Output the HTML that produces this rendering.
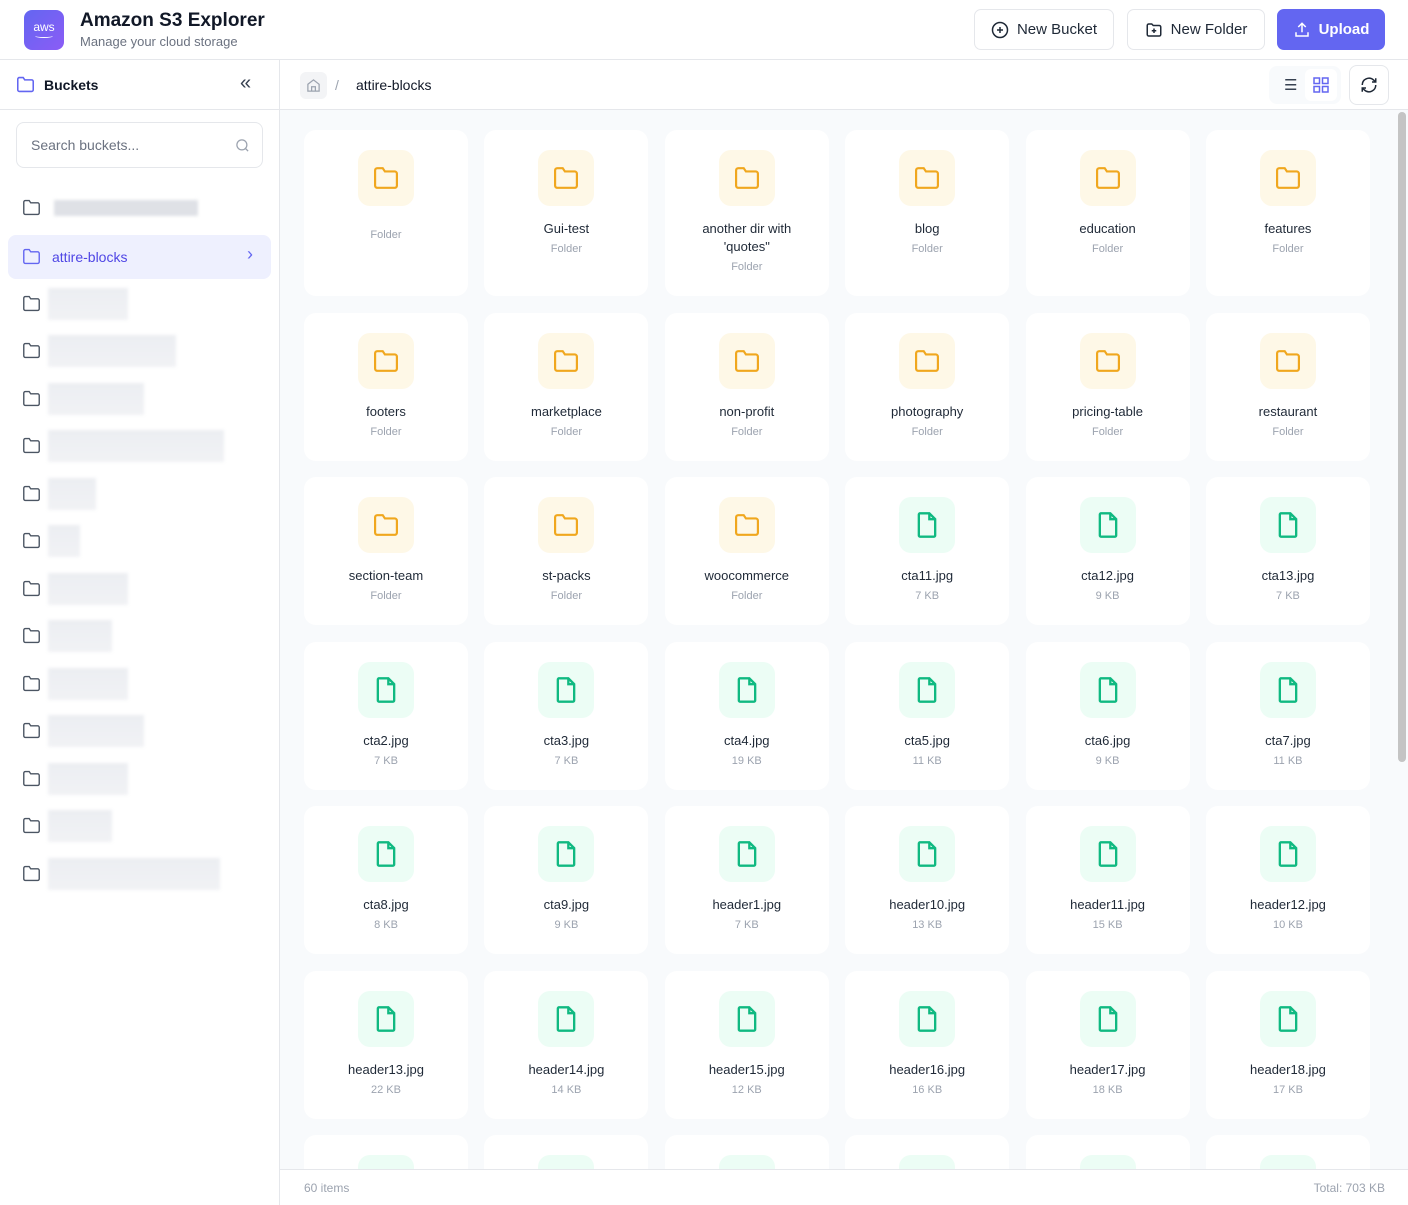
<!DOCTYPE html>
<html><head><meta charset="utf-8"><style>
*{box-sizing:border-box;margin:0;padding:0}
html,body{width:1408px;height:1205px;overflow:hidden}
body{background:#fff;font-family:"Liberation Sans",sans-serif;color:#1f2937;position:relative}
.hdr{position:absolute;left:0;top:0;width:1408px;height:60px;border-bottom:1px solid #e5e7eb;background:#fff}
.logo{position:absolute;left:24px;top:10px;width:40px;height:40px;border-radius:8px;background:linear-gradient(135deg,#6366f1,#8b5cf6);color:#fff;font-size:12px;text-align:center;line-height:34px}
.title{position:absolute;left:80px;top:10px;font-size:19px;font-weight:bold;color:#111827}
.sub{position:absolute;left:80px;top:34px;font-size:13px;color:#6b7280}
.btn{position:absolute;top:9px;height:41px;border:1px solid #e5e7eb;border-radius:7px;font-size:15px;color:#1f2937;display:flex;align-items:center;justify-content:center;gap:8px;background:#fff}
.side{position:absolute;left:0;top:60px;width:280px;height:1145px;border-right:1px solid #e5e7eb;background:#fff;overflow:hidden}
.sidehead{height:50px;border-bottom:1px solid #e5e7eb;position:relative}
.search{position:absolute;left:16px;top:62px;width:247px;height:46px;border:1px solid #e5e7eb;border-radius:8px;font-size:14px;color:#6b7280;padding:14px 14px}
.item{position:absolute;left:8px;width:263px;height:44px;border-radius:8px}
.item svg{position:absolute;left:14px;top:13px}
.blur{position:absolute;left:40px;top:6px;height:32px;background:linear-gradient(#eceef2,#f1f2f5);filter:blur(1.5px)}
.main{position:absolute;left:280px;top:60px;width:1128px;height:1145px;overflow:hidden}
.tool{height:50px;border-bottom:1px solid #e5e7eb;position:relative;background:#fff}
.content{position:absolute;left:0;top:50px;width:1128px;height:1059px;background:#f8fafc;overflow:hidden}
.grid{position:absolute;left:24px;top:20px;display:grid;grid-template-columns:repeat(6,164px);column-gap:16.4px;row-gap:16.5px;grid-template-rows:166px repeat(6,148px)}
.card{background:#fff;border-radius:12px;display:flex;flex-direction:column;align-items:center;padding-top:20px;text-align:center}
.ic{width:56px;height:56px;border-radius:12px;display:flex;align-items:center;justify-content:center}
.f .ic{background:#fef8e7}.d .ic{background:#ecfdf5}
.nm{margin-top:14px;font-size:13px;line-height:18px;color:#1f2937;width:120px}
.sz{margin-top:4px;font-size:11px;line-height:15px;color:#9ca3af}
.foot{position:absolute;left:0;top:1109px;width:1128px;height:36px;border-top:1px solid #e5e7eb;background:#fff;font-size:12px;color:#9ca3af}
.scroll{position:absolute;right:2px;top:2px;width:8px;height:650px;border-radius:4px;background:#c4c4c4}
</style></head><body>
<div class="hdr">
 <div class="logo">aws<div style="position:absolute;left:11px;top:24px;width:18px;height:4px;border-bottom:1.5px solid #fff;border-radius:0 0 50% 50%"></div></div>
 <div class="title">Amazon S3 Explorer</div>
 <div class="sub">Manage your cloud storage</div>
 <div class="btn" style="left:974px;width:140px"><svg width="18" height="18" viewBox="0 0 24 24" fill="none" stroke="#1f2937" stroke-width="2"><circle cx="12" cy="12" r="10"/><path d="M12 8v8M8 12h8"/></svg>New Bucket</div>
 <div class="btn" style="left:1127px;width:138px"><svg width="18" height="18" viewBox="0 0 24 24" fill="none" stroke="#1f2937" stroke-width="2"><path d="M3 6a2 2 0 0 1 2-2h4l2 2h8a2 2 0 0 1 2 2v10a2 2 0 0 1-2 2H5a2 2 0 0 1-2-2z"/><path d="M12 10v6M9 13h6"/></svg>New Folder</div>
 <div class="btn" style="left:1277px;width:108px;background:#6366f1;border-color:#6366f1;color:#fff;font-weight:bold"><svg width="18" height="18" viewBox="0 0 24 24" fill="none" stroke="#fff" stroke-width="2"><path d="M12 15V3M7 8l5-5 5 5M4 15v5h16v-5"/></svg>Upload</div>
</div>
<div class="side">
 <div class="sidehead">
  <svg style="position:absolute;left:16px;top:16px" width="19" height="17" viewBox="0 0 24 22" fill="none" stroke="#6366f1" stroke-width="2"><path d="M2 4a2 2 0 0 1 2-2h5l2 3h9a2 2 0 0 1 2 2v11a2 2 0 0 1-2 2H4a2 2 0 0 1-2-2z"/></svg>
  <div style="position:absolute;left:44px;top:17px;font-size:14px;font-weight:bold;color:#111827">Buckets</div>
  <div style="position:absolute;left:240px;top:12px;font-size:20px;color:#374151">«</div>
 </div>
 <div class="search">Search buckets...<svg style="position:absolute;right:12px;top:15px" width="15" height="15" viewBox="0 0 24 24" fill="none" stroke="#9ca3af" stroke-width="2"><circle cx="11" cy="11" r="8"/><path d="M21 21l-4-4"/></svg></div>
 <div id="items"></div>
</div>
<div class="main">
 <div class="tool">
  <div style="position:absolute;left:20px;top:12px;width:27px;height:27px;border-radius:6px;background:#f3f4f6;display:flex;align-items:center;justify-content:center"><svg width="15" height="15" viewBox="0 0 24 24" fill="none" stroke="#9ca3af" stroke-width="2"><path d="M3 10l9-7 9 7v11H3z"/><path d="M9 21v-7h6v7"/></svg></div>
  <div style="position:absolute;left:55px;top:17px;font-size:14px;color:#9ca3af">/</div>
  <div style="position:absolute;left:76px;top:17px;font-size:14px;color:#111827">attire-blocks</div>
  <div style="position:absolute;left:989px;top:6px;width:72px;height:38px;border-radius:8px;background:#f8fafc"></div>
  <div style="position:absolute;left:1004px;top:16px;font-size:15px;color:#374151">☰</div>
  <div style="position:absolute;left:1025px;top:9px;width:32px;height:32px;border-radius:6px;background:#fff;display:flex;align-items:center;justify-content:center"><svg width="16" height="16" viewBox="0 0 16 16" fill="none" stroke="#6366f1" stroke-width="1.5"><rect x="1" y="1" width="5.5" height="5.5"/><rect x="9.5" y="1" width="5.5" height="5.5"/><rect x="1" y="9.5" width="5.5" height="5.5"/><rect x="9.5" y="9.5" width="5.5" height="5.5"/></svg></div>
  <div style="position:absolute;left:1069px;top:5px;width:40px;height:40px;border:1px solid #e5e7eb;border-radius:8px;display:flex;align-items:center;justify-content:center"><svg width="18" height="18" viewBox="0 0 24 24" fill="none" stroke="#1f2937" stroke-width="2"><path d="M3 12a9 9 0 0 1 15-6.7L21 8M21 3v5h-5M21 12a9 9 0 0 1-15 6.7L3 16M3 21v-5h5"/></svg></div>
 </div>
 <div class="content"><div class="grid" id="grid"></div><div class="scroll"></div></div>
 <div class="foot"><span style="position:absolute;left:24px;top:11px">60 items</span><span style="position:absolute;right:23px;top:11px">Total: 703 KB</span></div>
</div>
<script>
var fold='<svg width="19" height="17" viewBox="0 0 24 22" fill="none" stroke="#4b5563" stroke-width="1.8"><path d="M2 4a2 2 0 0 1 2-2h5l2 3h9a2 2 0 0 1 2 2v11a2 2 0 0 1-2 2H4a2 2 0 0 1-2-2z"/></svg>';
var ys=[208,257,304,351,399,446,494,541,589,636,684,731,779,826,874],ws=[144,0,80,128,96,176,48,32,80,64,80,96,80,64,172];
var h='';ys.forEach(function(y,i){var t=y-60-22;
if(i==1){h+='<div class="item" style="top:'+t+'px;background:#eef0fe">'+fold.replace('#4b5563','#6366f1')+'<span style="position:absolute;left:44px;top:14px;font-size:14px;color:#4f46e5">attire-blocks</span><span style="position:absolute;right:18px;top:9px;font-size:18px;color:#6366f1">›</span></div>';}
else h+='<div class="item" style="top:'+t+'px">'+fold+'<div class="blur" style="width:'+ws[i]+'px'+(i==0?';left:46px;top:14px;height:16px;background:#dfe1e6':'')+'"></div></div>';});
document.getElementById('items').innerHTML=h;
var fi='<svg width="28" height="24" viewBox="0 0 24 22" fill="none" stroke="#f0a71e" stroke-width="2"><path d="M2 4a2 2 0 0 1 2-2h5l2 3h9a2 2 0 0 1 2 2v11a2 2 0 0 1-2 2H4a2 2 0 0 1-2-2z"/></svg>';
var di='<svg width="24" height="28" viewBox="0 0 20 24" fill="none" stroke="#10b981" stroke-width="2"><path d="M3 3a1 1 0 0 1 1-1h8l5 5v14a1 1 0 0 1-1 1H4a1 1 0 0 1-1-1z"/><path d="M12 2v5h5"/></svg>';
var items=[['','F'],['Gui-test','F'],['another dir with \'quotes"','F'],['blog','F'],['education','F'],['features','F'],['footers','F'],['marketplace','F'],['non-profit','F'],['photography','F'],['pricing-table','F'],['restaurant','F'],['section-team','F'],['st-packs','F'],['woocommerce','F'],['cta11.jpg','7 KB'],['cta12.jpg','9 KB'],['cta13.jpg','7 KB'],['cta2.jpg','7 KB'],['cta3.jpg','7 KB'],['cta4.jpg','19 KB'],['cta5.jpg','11 KB'],['cta6.jpg','9 KB'],['cta7.jpg','11 KB'],['cta8.jpg','8 KB'],['cta9.jpg','9 KB'],['header1.jpg','7 KB'],['header10.jpg','13 KB'],['header11.jpg','15 KB'],['header12.jpg','10 KB'],['header13.jpg','22 KB'],['header14.jpg','14 KB'],['header15.jpg','12 KB'],['header16.jpg','16 KB'],['header17.jpg','18 KB'],['header18.jpg','17 KB'],['','x'],['','x'],['','x'],['','x'],['','x'],['','x']];
var g='';items.forEach(function(it){var f=it[1]=='F';
g+='<div class="card '+(f?'f':'d')+'"><div class="ic">'+(f?fi:di)+'</div><div class="nm"'+(it[0]==''?' style="height:4px"':'')+'>'+it[0].replace(/'/g,"&#39;").replace(/"/g,"&quot;")+'</div><div class="sz">'+(f?'Folder':it[1])+'</div></div>';});
document.getElementById('grid').innerHTML=g;
</script>
</body></html>
